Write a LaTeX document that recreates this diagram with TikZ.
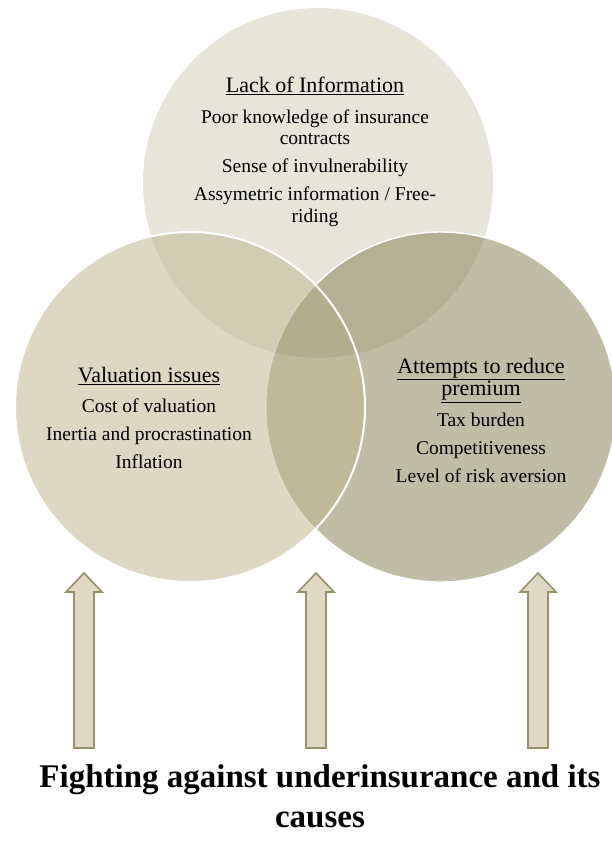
\documentclass[tikz,border=0pt]{standalone}
\usepackage{fontspec}
\setmainfont{Liberation Serif}
\usetikzlibrary{positioning}

\definecolor{topfill}{HTML}{E6E5D8}
\definecolor{leftfill}{HTML}{DCD8C4}
\definecolor{rightfill}{HTML}{C0BDA7}
\definecolor{topleft}{HTML}{D1CDB4}
\definecolor{topright}{HTML}{B4B096}
\definecolor{leftright}{HTML}{BEB998}
\definecolor{middle}{HTML}{B2AD8C}
\definecolor{dartfill}{HTML}{DDD9C3}
\definecolor{dartline}{HTML}{979169}

\tikzstyle{txt} = [align=center, inner sep=0pt, font=\fontsize{19.5}{21.5}\selectfont]
\tikzstyle{rim} = [draw=white, line width=2pt]
\tikzstyle{updart} = [draw=dartline, fill=dartfill, line width=1.6pt, line join=miter]
\newcommand{\heading}[1]{{\fontsize{22}{24}\selectfont\underline{#1}}}

\begin{document}
\begin{tikzpicture}[x=1pt, y=-1pt]
  \fill[white] (0,0) rectangle (612,847);
  \useasboundingbox (0,0) rectangle (612,847);
  % centres of the three circles
  \coordinate (ctop) at (318,183);
  \coordinate (cleft) at (190,407);
  \coordinate (cright) at (441,407);
  % discs and overlaps
  \fill[topfill] (ctop) circle[radius=175pt];
  \fill[rightfill] (cright) circle[radius=175pt];
  \begin{scope}
    \clip (ctop) circle[radius=175pt];
    \fill[topright] (cright) circle[radius=175pt];
  \end{scope}
  \draw[rim, line width=1.4pt] (cright) circle[radius=175pt];
  \fill[leftfill] (cleft) circle[radius=175pt];
  \begin{scope}
    \clip (cleft) circle[radius=175pt];
    \fill[leftright] (cright) circle[radius=175pt];
    \clip (ctop) circle[radius=175pt];
    \fill[topleft] (cleft) circle[radius=175pt];
    \clip (cright) circle[radius=175pt];
    \fill[middle] (ctop) circle[radius=175pt];
  \end{scope}
  \begin{scope}
    \clip (cleft) circle[radius=175pt];
    \draw[rim, line width=1pt, draw opacity=.35] (cright) circle[radius=175pt];
  \end{scope}
  \draw[rim] (cleft) circle[radius=175pt];

  % texts
  \node[txt, anchor=north] (lackinfo) at (315,77) {\heading{Lack of Information}\\[9pt]
    Poor knowledge of insurance\\ contracts\\[6.5pt]
    Sense of invulnerability\\[6.5pt]
    Assymetric information / Free-\\ riding};
  \node[txt, anchor=north] (valuation) at (149,367) {\heading{Valuation issues}\\[9pt]
    Cost of valuation\\[6.5pt]
    Inertia and procrastination\\[6.5pt]
    Inflation};
  \node[txt, anchor=north] (premium) at (481,358) {\heading{Attempts to reduce}\\[1pt]
    \heading{premium}\\[9.5pt]
    Tax burden\\[6.5pt]
    Competitiveness\\[6.5pt]
    Level of risk aversion};

  % arrows pointing up at the circles
  \foreach \x in {84,316,538}
    \draw[updart] (\x-10,748) -- (\x-10,592) -- (\x-18,592) -- (\x,573)
      -- (\x+18,592) -- (\x+10,592) -- (\x+10,748) -- cycle;

  \node[anchor=north, inner sep=0pt, align=center,
    font=\fontsize{33}{40}\selectfont\bfseries] (caption) at (320,764)
    {Fighting against underinsurance and its\\ causes};
\end{tikzpicture}
\end{document}
